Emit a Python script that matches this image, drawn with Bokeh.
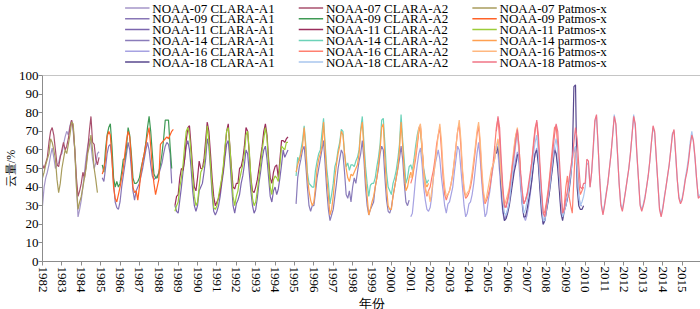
from bokeh.plotting import figure
from bokeh.layouts import column
from bokeh.models import FixedTicker, Range1d, Span
from bokeh.core.properties import value
from bokeh.embed import file_html
from bokeh.resources import INLINE

# ---------------- data (monthly cloud amount, %) ----------------
years = list(range(1982, 2016))

start_n07 = (1982, 1)
start_n09 = (1985, 2)
start_n11 = (1988, 11)
start_n14 = (1995, 2)
start_n16 = (2001, 1)
start_n18 = (2005, 6)

n07_clara_a1 = [30,40,45,48,52,57,61,56,50,52,53,57, 58,63,67,70,68,73,76,70,60,42,24,28, 33,40,48,56,62,66,63,55,50,53,58,59]
n07_clara_a2 = [52,50,53,56,64,70,72,68,60,52,51,56, 60,64,60,62,66,72,76,72,60,45,35,38, 42,48,45,52,60,70,78,64,63,55,52,56]
n07_patmos   = [45,48,52,55,58,66,64,60,55,44,37,42, 50,55,60,58,63,68,75,74,60,40,28,32, 35,40,45,50,58,62,68,60,50,44,37]

n09_clara_a1 = [45,43,50,58,62,63,55,42,32,29,28, 32,40,46,52,58,64,60,50,38,33,38,40, 42,46,50,55,60,64,60,52,46,44,45,46, 47,50,53,58,62,64,63,58,42]
n09_clara_a2 = [52,48,60,68,72,74,62,45,40,43,40, 42,48,55,55,62,72,68,58,45,42,42,43, 45,50,54,58,64,72,78,70,58,47,45,45, 48,52,58,66,76,76,76,62,50]
n09_patmos   = [47,50,55,67,70,68,55,40,34,32,36, 40,45,50,58,65,70,67,55,40,37,38,33, 40,48,54,58,63,68,72,62,50,42,36,40, 44,63,64,65,66,67,66,68,70,71]

n11_clara_a1 = [30,27, 26,33,40,48,55,62,65,60,50,38,30,27, 30,38,40,42,48,55,66,62,50,36,27,25, 27,30,35,42,48,56,63,65,55,42,30,26, 31,33,36,42,46,52,60,58,48,38,30,26, 28,34,42,48,55,60,62,55,45,35,32,38, 40,36,39,45,52,60,56,58,60]
n11_clara_a2 = [30,35, 36,45,50,49,55,65,72,73,62,50,40,38, 45,54,50,50,55,65,75,70,58,45,35,30, 32,34,38,44,50,60,70,74,62,50,40,39, 42,42,50,51,55,62,72,70,58,45,38,37, 40,44,50,56,62,70,74,68,55,45,42,48, 51,52,45,55,65,65,64,66,67]
n11_patmos   = [27,30, 32,40,45,52,62,70,72,68,58,45,35,30, 32,40,48,50,52,60,73,65,52,40,29,28, 30,35,40,45,52,62,70,72,62,48,35,30, 35,38,44,48,52,58,68,70,60,45,34,30, 32,38,45,52,60,66,72,66,52,40,36,44, 46,45,43,52,62,61,60,64,64]

n14_clara_a1 = [31,45,51,55,60,62,52,40,30,27,30, 30,37,45,50,55,60,65,52,38,28,22,25, 28,35,42,50,55,60,58,48,36,34,38,32, 40,45,42,48,54,58,65,55,40,30,25,28, 30,32,40,45,50,58,62,60,45,33,27,26, 29,35,40,45,50,55,62,55,42,32,30,33]
n14_clara_a2 = [46,56,54,60,65,73,63,48,42,41,40, 40,49,54,58,60,69,77,63,50,42,31,36, 42,51,54,60,64,71,70,58,51,53,49,52, 52,51,54,56,60,71,78,64,51,42,35,41, 42,42,45,51,56,63,76,77,63,48,40,38, 36,42,45,49,55,63,79,65,54,42,45,51, 52,49,55,62,68,72,70,60,50,45,42,44]
n14_patmos   = [48,52,55,58,62,72,60,45,38,33,30, 32,40,50,55,58,62,75,60,45,35,25,28, 35,45,52,58,62,70,68,58,50,45,43,47, 46,48,50,52,58,70,75,60,45,35,25,28, 32,35,40,45,52,60,72,74,55,40,30,28, 28,35,40,45,50,60,75,62,48,38,40,45, 48,45,52,58,64,70,72,60,48,42,40,42]

n16_clara_a1 = [24,26,35,45,52,58,61,52,40,33,28,27, 29,35,45,52,56,60,55,45,38,30,26,31, 32,36,40,48,55,62,60,50,40,30,24,26, 31,32,36,42,50,58,64,55,42,32,24,26, 33,38,45,51,56,62,58,48,35,26,22,25, 28,32,38,44,50,55,59,52,40,30,24,22, 25,30,36,44,52,58,61,54,42,30,20,22, 28,33,40,46,55,62,58,52,40,28,24,28, 30,34,40,48,55,61,58,48,36,30,30]
n16_clara_a2 = [42,45,50,55,62,70,73,62,48,39,35,38, 40,45,49,55,63,68,72,60,45,36,33,36, 38,42,47,54,62,70,74,62,48,38,34,35, 37,40,45,52,60,68,73,62,46,36,31,33, 36,40,46,53,62,72,77,66,50,38,29,30, 33,38,44,52,60,68,70,60,46,36,31,33, 36,40,46,54,64,72,75,64,48,36,25,27, 32,38,46,55,64,72,73,62,46,34,26,29, 40,46,35,30,26,45,62,55,42,36,38,40]
n16_patmos   = [45,48,52,58,65,72,74,62,48,40,36,38, 32,38,45,52,60,68,74,65,50,40,35,36, 38,42,47,55,62,70,76,66,50,40,35,37, 38,42,48,55,62,70,75,65,50,38,32,35, 40,45,50,52,55,62,66,58,45,36,30,33, 36,40,46,54,62,68,72,62,48]

n18_clara_a1 = [58,62,55,40,28,22,23, 26,30,36,42,48,52,57,58,45,32,24,24, 28,33,38,44,52,58,60,52,38,26,20,22, 27,32,38,45,52,60,58,50,38,26,22,27, 30,34,38,45,55,94,95,40,30,28,28,30]
n18_clara_a2 = [60,65,58,45,33,26,25, 28,32,40,48,55,63,70,58,44,32,26,28, 32,38,44,50,58,64,68,58,44,32,22,22, 28,34,40,48,56,62,66,60,46,34,24,27, 30,35,40,47,54,60,62,50,35,30,32,35, 40,53,52,40,48,60,75,78,62,44,31,26, 31,37,42,50,58,68,79,73,58,42,31,28, 33,38,44,50,58,68,79,72,57,44,31,28, 31,35,40,46,54,64,72,69,55,42,29,25, 29,35,40,46,52,60,69,70,57,44,35,32, 34,39,45,50,56,64,70,64,55,44,35,36]
n18_patmos   = [70,78,72,55,40,30,29, 33,38,45,52,58,65,71,62,48,38,31,33, 36,42,48,54,62,70,76,68,52,38,26,24, 30,36,44,52,60,68,74,70,55,40,26,28, 34,38,44,50,56,64,72,66,52,40,39,42, 42,55,54,40,48,62,76,79,62,44,30,25, 30,36,42,50,58,68,78,74,58,42,30,27, 32,38,44,50,58,68,78,74,58,44,30,27, 30,34,40,46,54,64,73,70,56,42,28,24, 28,34,40,46,52,60,68,71,58,44,34,31, 33,38,44,48,54,62,68,65,56,44,34,35]

SERIF = "Liberation Serif"


def month_axis(start, n):
    y, m = start
    return [y + (m - 1 + i) / 12.0 for i in range(n)]


# (label, values, start, colour) grouped in legend columns
col_a1 = [
    ("NOAA-07  CLARA-A1", n07_clara_a1, start_n07, "#a596c8"),
    ("NOAA-09  CLARA-A1", n09_clara_a1, start_n09, "#8876b6"),
    ("NOAA-11  CLARA-A1", n11_clara_a1, start_n11, "#7b66ae"),
    ("NOAA-14  CLARA-A1", n14_clara_a1, start_n14, "#8a7cba"),
    ("NOAA-16  CLARA-A1", n16_clara_a1, start_n16, "#a6a2e2"),
    ("NOAA-18  CLARA-A1", n18_clara_a1, start_n18, "#58488e"),
]
col_a2 = [
    ("NOAA-07  CLARA-A2", n07_clara_a2, start_n07, "#a8506e"),
    ("NOAA-09  CLARA-A2", n09_clara_a2, start_n09, "#3f9a55"),
    ("NOAA-11  CLARA-A2", n11_clara_a2, start_n11, "#9a2d5b"),
    ("NOAA-14  CLARA-A2", n14_clara_a2, start_n14, "#6cd2b8"),
    ("NOAA-16  CLARA-A2", n16_clara_a2, start_n16, "#ff8070"),
    ("NOAA-18  CLARA-A2", n18_clara_a2, start_n18, "#a8c6ee"),
]
col_px = [
    ("NOAA-07  Patmos-x", n07_patmos, start_n07, "#a89c5c"),
    ("NOAA-09  Patmos-x", n09_patmos, start_n09, "#ff6228"),
    ("NOAA-11  Patmos-x", n11_patmos, start_n11, "#9ccc38"),
    ("NOAA-14  parmos-x", n14_patmos, start_n14, "#ffa050"),
    ("NOAA-16  Patmos-x", n16_patmos, start_n16, "#ffb880"),
    ("NOAA-18  Patmos-x", n18_patmos, start_n18, "#f07486"),
]
columns = [col_a1, col_a2, col_px]

# ---------------- legend strip (pixel space, y downwards) ----------------
LEG_H = 69
leg = figure(width=700, height=LEG_H, output_backend="svg", toolbar_location=None,
             x_range=Range1d(0, 700), y_range=Range1d(LEG_H, 0),
             min_border=0, outline_line_color=None)
leg.axis.visible = False
leg.grid.visible = False

col_x = [88, 273, 458]
row_y0, row_dy, glyph_w = 7.5, 10.8, 26
sx0, sx1, sy, tx, ty, tl, tc = [], [], [], [], [], [], []
for ci, col in enumerate(columns):
    for ri, (label, vals, start, color) in enumerate(col):
        yy = row_y0 + ri * row_dy
        sx0.append(col_x[ci]); sx1.append(col_x[ci] + glyph_w); sy.append(yy)
        tx.append(col_x[ci] + glyph_w + 3); ty.append(yy)
        tl.append(label); tc.append(color)
leg.segment(x0=sx0, y0=sy, x1=sx1, y1=sy, line_color=tc, line_width=1.5)
leg.text(x=tx, y=ty, text=tl, text_font=value(SERIF), text_font_size="13px",
         text_baseline="middle", text_align="left", text_color="black")

# ---------------- main chart ----------------
p = figure(frame_width=659, frame_height=186, output_backend="svg", toolbar_location=None,
           x_range=Range1d(1982, 2016), y_range=Range1d(0, 100),
           min_border_left=40, min_border_right=1, min_border_top=6,
           min_border_bottom=40)
p.outline_line_color = None
p.xgrid.visible = False
p.ygrid.visible = False

for col in columns:
    for label, vals, start, color in col:
        p.line(month_axis(start, len(vals)), vals, line_color=color, line_width=1.2)

p.add_layout(Span(location=100, dimension="width", line_color="#8c8c8c", line_width=1))

p.xaxis.ticker = FixedTicker(ticks=years)
p.xaxis.major_label_orientation = "vertical"
p.yaxis.ticker = FixedTicker(ticks=list(range(0, 101, 10)))
for ax in (p.xaxis[0], p.yaxis[0]):
    ax.axis_line_color = "#8c8c8c"
    ax.major_tick_line_color = "#8c8c8c"
    ax.major_tick_out = 4
    ax.major_tick_in = 0
    ax.minor_tick_line_color = None
    ax.major_label_text_font = SERIF
    ax.major_label_text_font_size = "13px"
    ax.major_label_text_color = "black"
    ax.major_label_standoff = 1
    ax.axis_label_text_font = SERIF
    ax.axis_label_text_font_size = "13px"
    ax.axis_label_text_font_style = "normal"
    ax.axis_label_text_color = "black"
    ax.axis_label_text_line_height = 1.0
    ax.axis_label_standoff = 0
# tighten the left panel so that the frame starts where the reference's does
p.yaxis.major_label_standoff = 0
p.yaxis.axis_label_text_font_size = "12px"
p.yaxis.axis_label_standoff = -2
p.xaxis.axis_label = "年份"
p.yaxis.axis_label = "云量/%"

open("out.html", "w").write(file_html(column(leg, p, spacing=0), INLINE))
